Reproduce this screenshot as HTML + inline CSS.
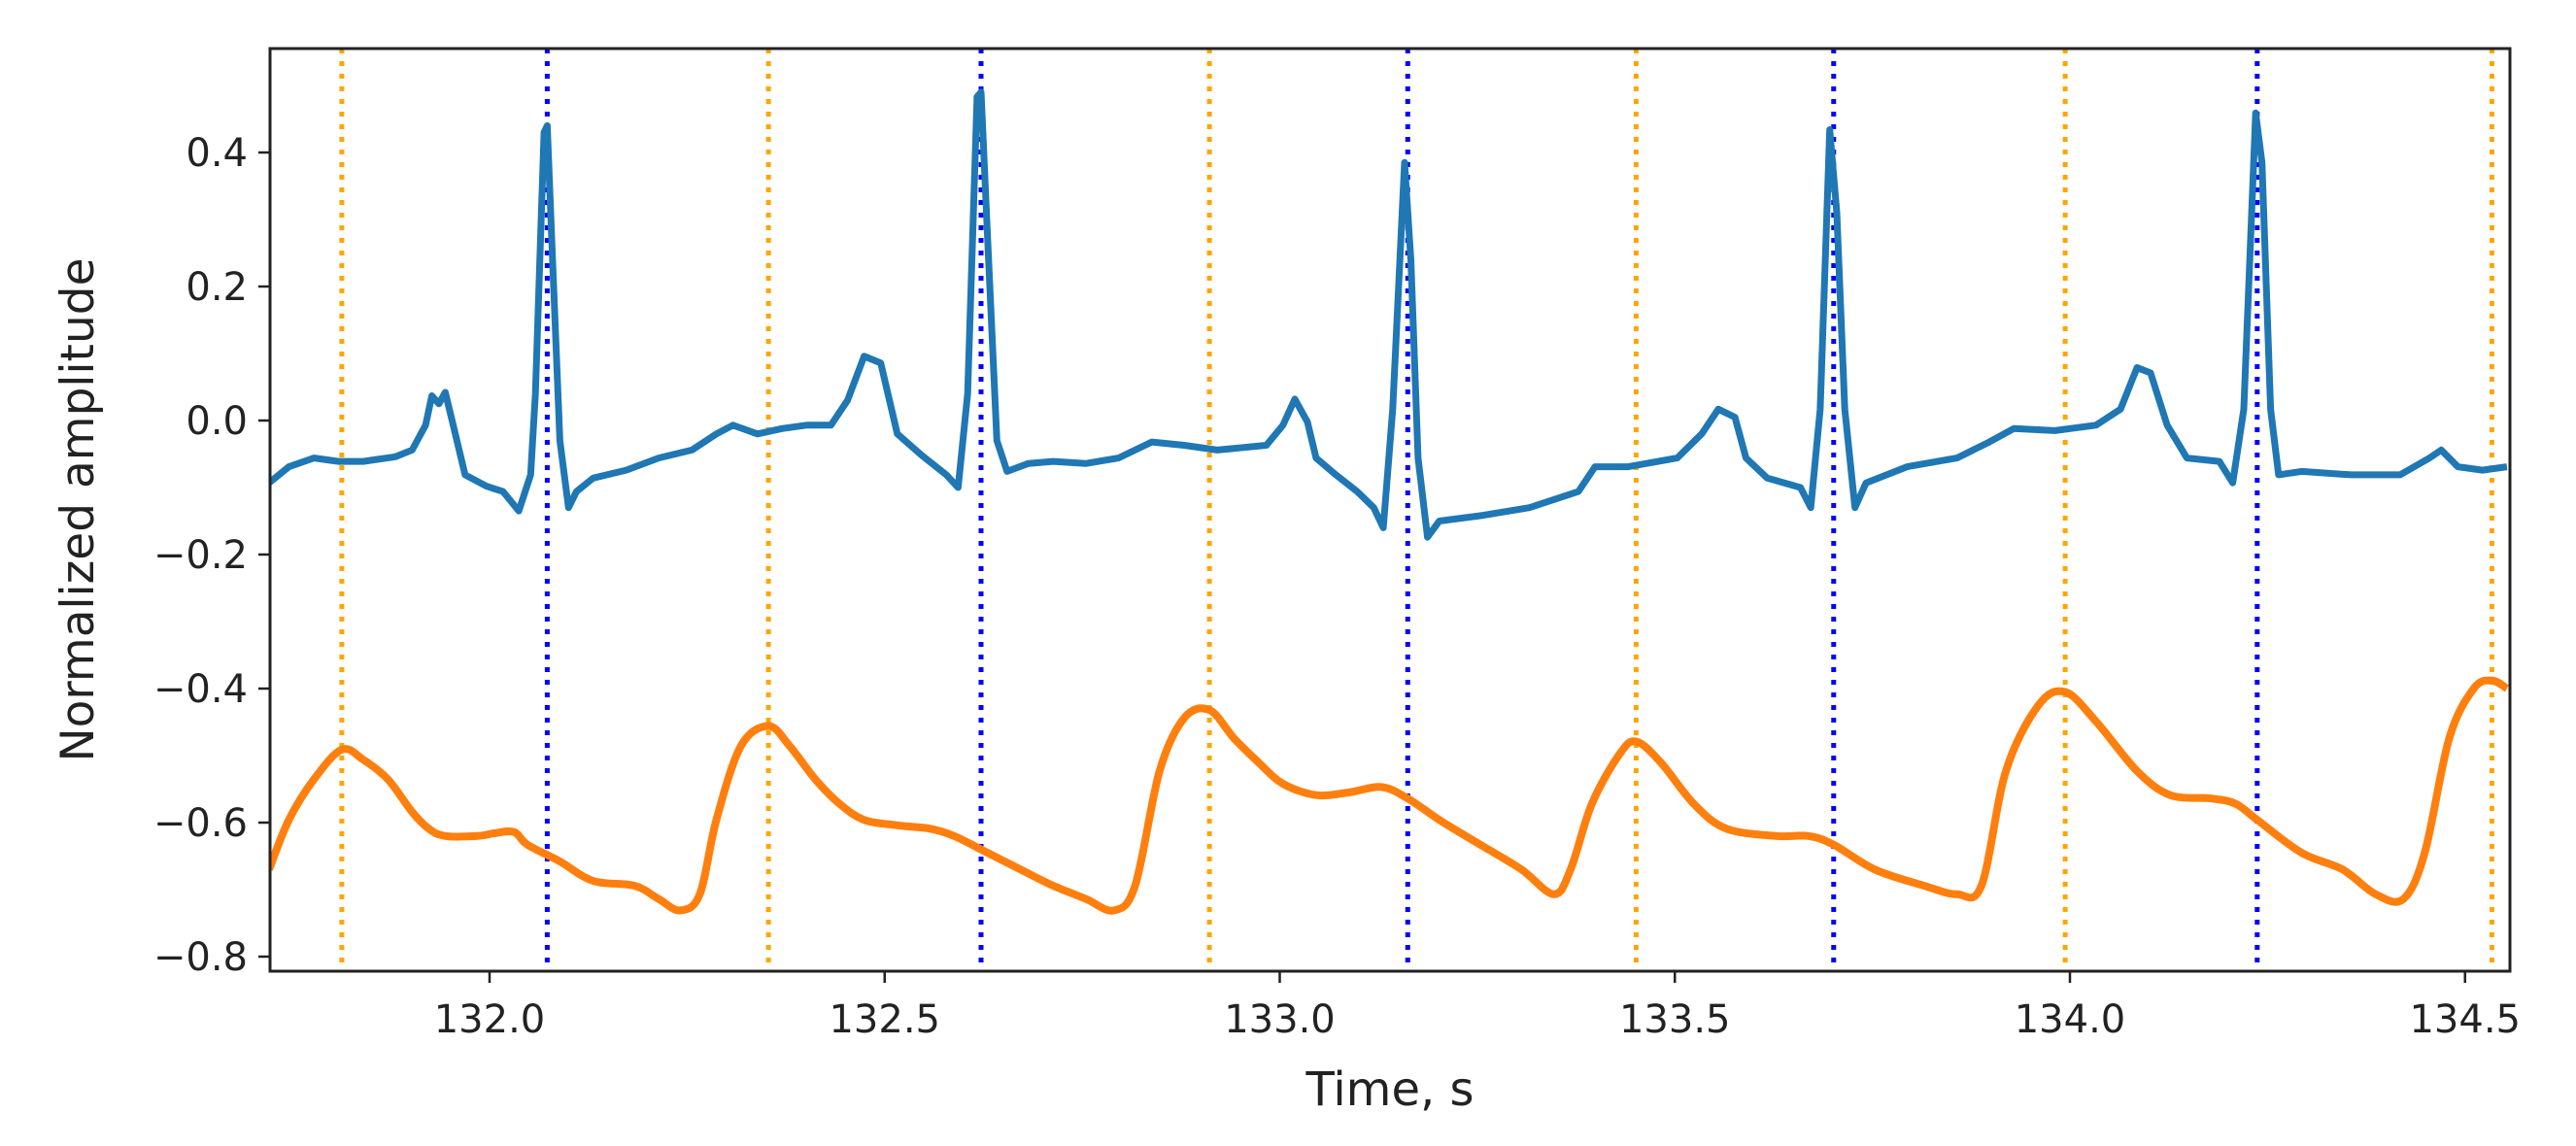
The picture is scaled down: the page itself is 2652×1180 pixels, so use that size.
<!DOCTYPE html>
<html><head><meta charset="utf-8"><style>
html,body{margin:0;padding:0;background:#fff;}
svg{display:block;}
text{font-family:"DejaVu Sans","Liberation Sans",sans-serif;fill:#222;}
</style></head><body>
<svg id="chart" width="2652" height="1180" viewBox="0 0 2652 1180" xmlns="http://www.w3.org/2000/svg">
<defs><clipPath id="clip"><rect x="278" y="50" width="2306" height="950"/></clipPath></defs>
<rect x="0" y="0" width="2652" height="1180" fill="#fff"/>
<g id="vlines" clip-path="url(#clip)"></g>
<g id="series" clip-path="url(#clip)"></g>
<rect x="278" y="50" width="2306" height="950" fill="none" stroke="#222" stroke-width="3"/>
<g id="xticks"></g>
<g id="yticks"></g>
<text x="1431" y="1138" font-size="48" text-anchor="middle">Time, s</text>
<text transform="translate(96,525) rotate(-90)" font-size="47" text-anchor="middle">Normalized amplitude</text>
</svg>
<script>
const xTicks = [132.0, 132.5, 133.0, 133.5, 134.0, 134.5];
const xTickLabels = ["132.0","132.5","133.0","133.5","134.0","134.5"];
const yTicks = [0.4, 0.2, 0.0, -0.2, -0.4, -0.6, -0.8];
const yTickLabels = ["0.4","0.2","0.0","\u22120.2","\u22120.4","\u22120.6","\u22120.8"];
const ppgPeakTimes = [131.813, 132.353, 132.911, 133.451, 133.994, 134.534];
const ecgPeakTimes = [132.073, 132.622, 133.162, 133.701, 134.237];
const ecgTimes = [131.721,131.746,131.778,131.809,131.840,131.881,131.902,131.919,131.927,131.936,131.944,131.954,131.969,131.996,132.017,132.037,132.052,132.058,132.069,132.073,132.079,132.089,132.100,132.110,132.131,132.173,132.214,132.256,132.287,132.308,132.339,132.370,132.401,132.432,132.453,132.474,132.495,132.516,132.547,132.578,132.593,132.605,132.617,132.622,132.630,132.642,132.655,132.682,132.713,132.755,132.796,132.838,132.879,132.921,132.983,133.004,133.019,133.035,133.046,133.071,133.098,133.119,133.131,133.143,133.158,133.166,133.175,133.187,133.202,133.254,133.316,133.378,133.399,133.441,133.503,133.534,133.555,133.576,133.590,133.617,133.659,133.672,133.684,133.696,133.705,133.715,133.728,133.742,133.794,133.857,133.898,133.929,133.981,134.033,134.064,134.085,134.102,134.123,134.148,134.189,134.206,134.220,134.235,134.243,134.254,134.264,134.293,134.356,134.418,134.455,134.470,134.491,134.522,134.553];
const ecgValues = [-0.093,-0.069,-0.056,-0.061,-0.061,-0.054,-0.044,-0.007,0.037,0.025,0.042,-0.007,-0.081,-0.098,-0.106,-0.135,-0.081,0.04,0.43,0.44,0.26,-0.03,-0.13,-0.106,-0.086,-0.074,-0.056,-0.044,-0.02,-0.007,-0.02,-0.012,-0.007,-0.007,0.03,0.096,0.086,-0.02,-0.052,-0.081,-0.10,0.04,0.483,0.49,0.28,-0.03,-0.076,-0.064,-0.061,-0.064,-0.056,-0.032,-0.037,-0.044,-0.037,-0.007,0.032,-0.002,-0.056,-0.081,-0.106,-0.13,-0.16,0.017,0.385,0.24,-0.056,-0.174,-0.15,-0.142,-0.13,-0.106,-0.069,-0.069,-0.056,-0.02,0.017,0.005,-0.056,-0.086,-0.10,-0.13,0.017,0.434,0.31,0.017,-0.13,-0.093,-0.069,-0.056,-0.032,-0.012,-0.015,-0.007,0.017,0.079,0.071,-0.007,-0.056,-0.061,-0.093,0.017,0.459,0.385,0.017,-0.081,-0.076,-0.081,-0.081,-0.056,-0.044,-0.069,-0.074,-0.069];
const ppgTimes = [131.721,131.746,131.778,131.813,131.840,131.871,131.902,131.923,131.944,131.985,132.006,132.031,132.048,132.089,132.131,132.183,132.214,132.241,132.266,132.287,132.318,132.353,132.380,132.412,132.443,132.474,132.516,132.557,132.588,132.630,132.672,132.713,132.755,132.790,132.817,132.848,132.879,132.911,132.942,132.973,133.004,133.046,133.087,133.129,133.162,133.202,133.254,133.306,133.347,133.368,133.395,133.430,133.451,133.482,133.524,133.565,133.628,133.669,133.701,133.753,133.815,133.857,133.888,133.919,133.960,133.994,134.033,134.085,134.127,134.179,134.210,134.237,134.293,134.345,134.387,134.422,134.449,134.480,134.511,134.534,134.553];
const ppgValues = [-0.67,-0.596,-0.535,-0.491,-0.506,-0.535,-0.584,-0.609,-0.62,-0.62,-0.616,-0.614,-0.633,-0.658,-0.687,-0.694,-0.714,-0.731,-0.707,-0.596,-0.486,-0.456,-0.486,-0.535,-0.572,-0.596,-0.604,-0.609,-0.62,-0.645,-0.67,-0.694,-0.714,-0.731,-0.694,-0.523,-0.444,-0.432,-0.474,-0.51,-0.542,-0.559,-0.555,-0.547,-0.564,-0.596,-0.633,-0.67,-0.707,-0.67,-0.572,-0.498,-0.479,-0.51,-0.572,-0.609,-0.62,-0.62,-0.633,-0.67,-0.694,-0.707,-0.694,-0.523,-0.425,-0.405,-0.449,-0.523,-0.559,-0.564,-0.572,-0.596,-0.645,-0.67,-0.707,-0.714,-0.645,-0.474,-0.4,-0.388,-0.4];

const NS = "http://www.w3.org/2000/svg";
function xScale(t){ return 504 + (t - 132) * 813.5; }
function yScale(v){ return 433 - v * 690; }
function mk(tag, attrs, parent){ const e=document.createElementNS(NS,tag); for(const k in attrs) e.setAttribute(k,attrs[k]); parent.appendChild(e); return e; }

const vl = document.getElementById('vlines');
ppgPeakTimes.forEach(t=>{
  const l = mk('line',{x1:xScale(t),x2:xScale(t),y1:50,y2:1000,stroke:'#ffa500','stroke-width':5,'stroke-dasharray':'5 8'},vl);
  
  
});
ecgPeakTimes.forEach(t=>{
  const l = mk('line',{x1:xScale(t),x2:xScale(t),y1:50,y2:1000,stroke:'#0000ff','stroke-width':5,'stroke-dasharray':'5 8'},vl);
  
  
});

const sg = document.getElementById('series');
let d='';
ecgTimes.forEach((t,i)=>{ d += (i?'L':'M') + xScale(t).toFixed(1)+','+yScale(ecgValues[i]).toFixed(1); });
const ecg = mk('path',{d:d,fill:'none',stroke:'#1f77b4','stroke-width':7,'stroke-linejoin':'round'},sg);



const P = ppgTimes.map((t,i)=>[xScale(t), yScale(ppgValues[i])]);
let d2 = 'M'+P[0][0]+','+P[0][1];
for(let i=0;i<P.length-1;i++){
  const p0=P[Math.max(0,i-1)], p1=P[i], p2=P[i+1], p3=P[Math.min(P.length-1,i+2)];
  const c1=[p1[0]+(p2[0]-p0[0])/6, p1[1]+(p2[1]-p0[1])/6];
  const c2=[p2[0]-(p3[0]-p1[0])/6, p2[1]-(p3[1]-p1[1])/6];
  d2 += 'C'+c1[0].toFixed(1)+','+c1[1].toFixed(1)+' '+c2[0].toFixed(1)+','+c2[1].toFixed(1)+' '+p2[0].toFixed(1)+','+p2[1].toFixed(1);
}
const ppg = mk('path',{d:d2,fill:'none',stroke:'#ff7f0e','stroke-width':8,'stroke-linejoin':'round'},sg);



const xg = document.getElementById('xticks');
xTicks.forEach((t,i)=>{
  const tk = mk('line',{x1:xScale(t),x2:xScale(t),y1:1000,y2:1012,stroke:'#222','stroke-width':2.5},xg);
  
  
  const tx = mk('text',{x:xScale(t),y:1063,'font-size':40,'text-anchor':'middle'},xg);
  tx.textContent = xTickLabels[i];
  
  
});
const yg = document.getElementById('yticks');
yTicks.forEach((v,i)=>{
  const tk = mk('line',{x1:266,x2:278,y1:yScale(v),y2:yScale(v),stroke:'#222','stroke-width':2.5},yg);
  
  
  const tx = mk('text',{x:255,y:yScale(v)+14,'font-size':40,'text-anchor':'end'},yg);
  tx.textContent = yTickLabels[i];
  
  
});
</script>
</body></html>
